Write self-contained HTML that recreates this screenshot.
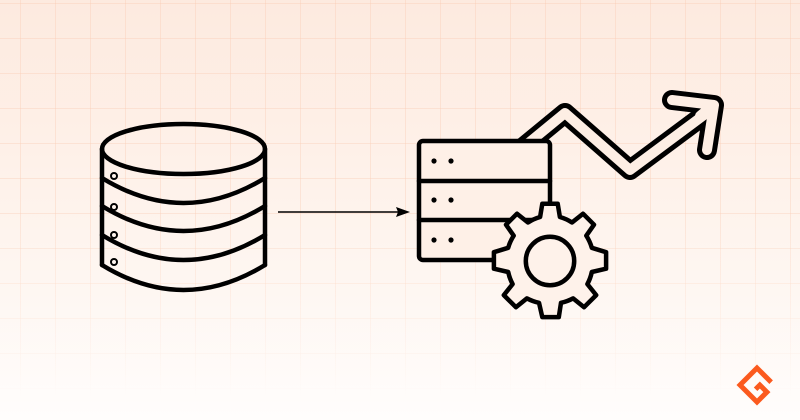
<!DOCTYPE html>
<html><head><style>
html,body{margin:0;padding:0}
body{width:800px;height:420px;overflow:hidden;position:relative;
background:linear-gradient(#fdeadf 0%,#fef3ec 50%,#fffdfc 100%);}
.grid{position:absolute;inset:0;
background-image:linear-gradient(rgba(250,200,175,0.35) 1px,transparent 1px),linear-gradient(90deg,rgba(250,200,175,0.35) 1px,transparent 1px);
background-size:35px 35px;background-position:20px 3px;
-webkit-mask-image:linear-gradient(#000 0%,#000 50%,transparent 95%);mask-image:linear-gradient(#000 0%,#000 50%,transparent 95%);}
svg{position:absolute;left:0;top:0}
</style></head><body>
<div class="grid"></div>
<svg width="800" height="420" viewBox="0 0 800 420">
<g fill="none" stroke="#000" stroke-width="4.5" stroke-linejoin="round" stroke-linecap="round">
 <ellipse cx="183.5" cy="149" rx="81.5" ry="25"/>
 <path d="M102 149 V265 M265 149 V265"/>
 <path d="M102 178 Q183.5 228 265 178"/>
 <path d="M102 206 Q183.5 256 265 206"/>
 <path d="M102 235 Q183.5 285 265 235"/>
 <path d="M102 265 Q183.5 315 265 265"/>
 <g stroke-width="2"><circle cx="114" cy="176" r="3"/><circle cx="114" cy="207" r="3"/><circle cx="114" cy="235" r="3"/><circle cx="114" cy="262" r="3"/></g>
 <path d="M520 150 L565 113 L630 170 L708 112" stroke-width="20" stroke-linecap="butt"/>
 <path d="M672 100 L714 105 L707 150" stroke-width="20"/>
 <path d="M520 150 L565 113 L630 170 L708 112" stroke="#fdeee4" stroke-width="10" stroke-linecap="butt"/>
 <path d="M672 100 L714 105 L707 150" stroke="#fdeee4" stroke-width="10"/>
 <path d="M700 116 L712 106" stroke="#fdeee4" stroke-width="10"/>
 <rect x="419" y="141" width="131" height="119" rx="4" fill="#fef0e7"/>
 <path d="M419 181 H550 M419 220 H550"/>
</g>
<g fill="#000">
 <circle cx="434" cy="161" r="2.6"/><circle cx="451" cy="161" r="2.6"/>
 <circle cx="434" cy="200" r="2.6"/><circle cx="451" cy="200" r="2.6"/>
 <circle cx="434" cy="240" r="2.6"/><circle cx="451" cy="240" r="2.6"/>
</g>
<g transform="translate(550,261) scale(1.1)" stroke="#000" stroke-width="4.1" stroke-linejoin="round" fill="#fef2ea">
 <path d="M-7,-52 L7,-52 L9,-40 A41 41 0 0 1 20,-35 L30,-43 L40,-33 L33,-23 A41 41 0 0 1 38,-12 L51,-8 L51,7 L38,10 A41 41 0 0 1 34,21 L42,31 L31,42 L21,34 A41 41 0 0 1 10,38 L8,51 L-7,51 L-10,38 A41 41 0 0 1 -21,34 L-31,42 L-42,31 L-34,21 A41 41 0 0 1 -38,10 L-51,7 L-51,-8 L-38,-12 A41 41 0 0 1 -33,-23 L-40,-33 L-30,-43 L-20,-35 A41 41 0 0 1 -9,-40 Z"/>
 <circle r="22" fill="none"/>
</g>
<line x1="278" y1="212" x2="398" y2="212" stroke="#000" stroke-width="1.5"/>
<path d="M410 212 L396 207 L398 212 L396 217 Z" fill="#000"/>
<g transform="translate(757,385) rotate(45)" fill="none" stroke="#fb5a1e" stroke-width="5">
 <path d="M8,-12 H-12 V12 H12 V-2 H2 V4"/>
</g>
</svg>
</body></html>
